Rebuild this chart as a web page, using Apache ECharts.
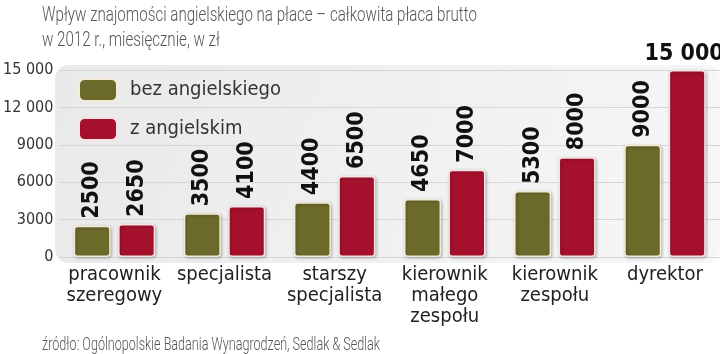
<!DOCTYPE html>
<html><head><meta charset="utf-8">
<script src="https://cdn.jsdelivr.net/npm/echarts@6/dist/echarts.min.js"></script>
<style>html,body{margin:0;padding:0;background:#fff}#c{width:720px;height:354px}</style>
</head><body><div id="c"></div>
<script>
const categories = ['pracownik\nszeregowy','specjalista','starszy\nspecjalista','kierownik\nmałego\nzespołu','kierownik\nzespołu','dyrektor'];
const withoutEnglish = [2500, 3500, 4400, 4650, 5300, 9000];
const withEnglish = [2650, 4100, 6500, 7000, 8000, 15000];
const seriesNames = ['bez angielskiego', 'z angielskim'];
const yTicks = [0, 3000, 6000, 9000, 12000, 15000];
const titleLines = ['Wpływ znajomości angielskiego na płace – całkowita płaca brutto', 'w 2012 r., miesięcznie, w zł'];
const sourceText = 'źródło: Ogólnopolskie Badania Wynagrodzeń, Sedlak & Sedlak';

const NARROW = '"Liberation Sans Narrow", "DejaVu Sans Condensed", sans-serif';
function fmt(v){ return v >= 10000 ? String(v).replace(/\B(?=(\d{3})+(?!\d))/g, ' ') : String(v); }

const chart = echarts.init(document.getElementById('c'), null, {renderer:'canvas'});
const labelRot = {show:true, position:'top', rotate:90, align:'left', verticalAlign:'middle', distance:7,
  fontFamily:NARROW, fontWeight:'bold', fontSize:23, color:'#111', formatter: p => fmt(p.value)};
const redData = withEnglish.map(v => v >= 10000 ? {value:v, label:{rotate:0, align:'center', verticalAlign:'bottom', distance:4, offset:[-3,0]}} : v);

chart.setOption({
  animation:false,
  graphic:[
    {type:'rect', left:55, top:65, z:-10, shape:{width:665, height:198, r:14},
     style:{fill:new echarts.graphic.LinearGradient(0,0,1,1,[{offset:0,color:'#e9e9e9'},{offset:1,color:'#f7f7f7'}])}},
    {type:'text', x:42, y:5, scaleX:0.72, style:{text:titleLines[0], font:'300 21px Roboto, sans-serif', fill:'#555'}},
    {type:'text', x:42, y:30, scaleX:0.72, style:{text:titleLines[1], font:'300 21px Roboto, sans-serif', fill:'#555'}},
    {type:'text', x:42, y:336, scaleX:0.7, style:{text:sourceText, font:'300 18px Roboto, sans-serif', fill:'#555'}}
  ],
  legend:{orient:'vertical', left:78, top:78, padding:0, itemWidth:38, itemHeight:22, itemGap:15,
    icon:'roundRect', data:seriesNames,
    textStyle:{fontFamily:NARROW, fontSize:20, color:'#333', padding:[0,0,0,8]}},
  grid:{left:57, right:0, top:70, bottom:97, containLabel:false},
  xAxis:{type:'category', data:categories, axisLine:{show:false}, axisTick:{show:false},
    axisLabel:{fontFamily:NARROW, fontSize:20, color:'#222', lineHeight:21, margin:7, interval:0, verticalAlign:'top'}},
  yAxis:{type:'value', min:yTicks[0], max:yTicks[yTicks.length-1], interval:3000,
    axisLine:{show:false}, axisTick:{show:false},
    axisLabel:{fontFamily:NARROW, fontSize:16, color:'#333', margin:6, formatter:fmt},
    splitLine:{lineStyle:{color:'#d6d6d6', width:1}}},
  series:[
    {name:seriesNames[0], type:'bar', data:withoutEnglish, barGap:'20%', barCategoryGap:'26%',
     itemStyle:{color:'#6b6a2b', borderColor:'#f3ecd8', borderWidth:1.5, borderRadius:3,
       shadowColor:'rgba(0,0,0,0.25)', shadowBlur:3, shadowOffsetX:1, shadowOffsetY:1},
     label:labelRot},
    {name:seriesNames[1], type:'bar', data:redData,
     itemStyle:{color:'#a5102d', borderColor:'#f7e3e3', borderWidth:1.5, borderRadius:3,
       shadowColor:'rgba(0,0,0,0.25)', shadowBlur:3, shadowOffsetX:1, shadowOffsetY:1},
     label:labelRot}
  ]
});
</script></body></html>
